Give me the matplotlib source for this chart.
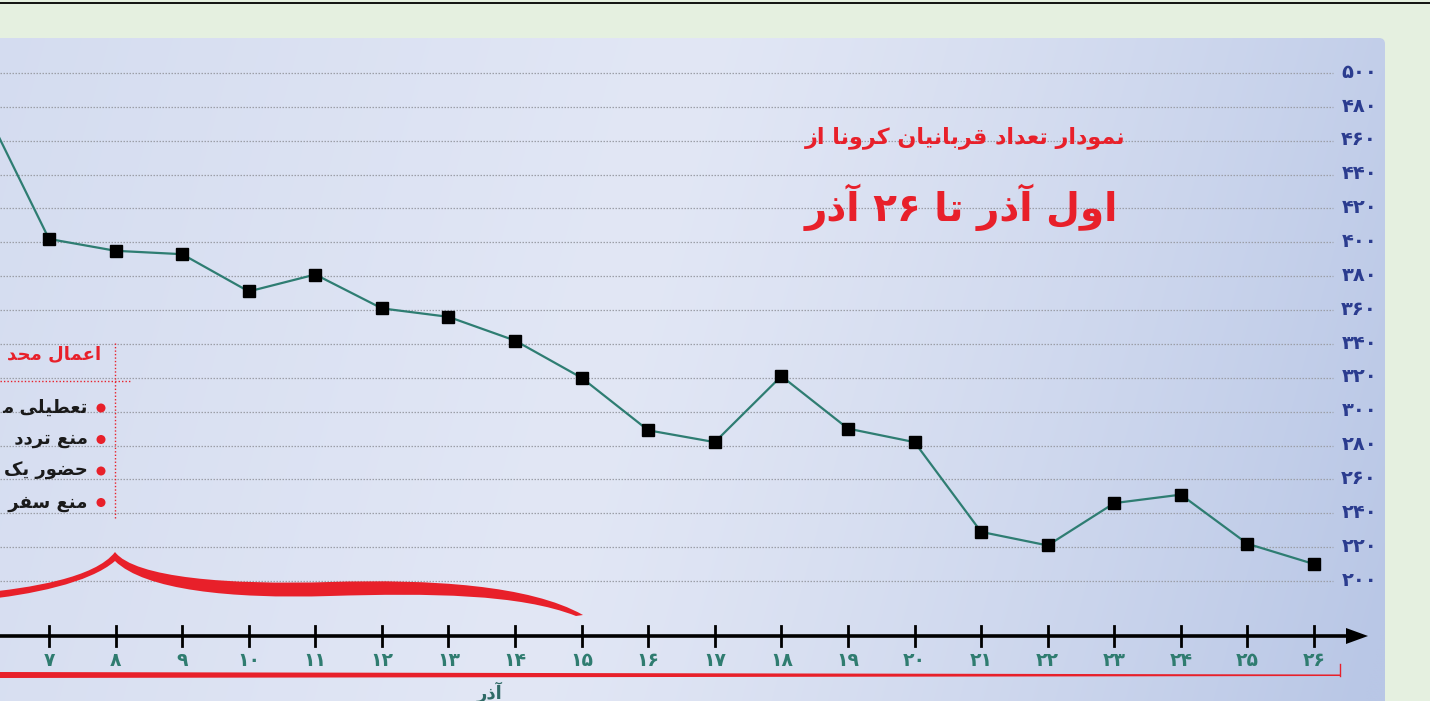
import numpy as np
import matplotlib
matplotlib.use("Agg")
import matplotlib.pyplot as plt
from matplotlib.patches import Polygon, PathPatch, FancyBboxPatch, Circle
from matplotlib.path import Path
from matplotlib.transforms import blended_transform_factory as blend

# ---------------- data ----------------
days = [6, 7, 8, 9, 10, 11, 12, 13, 14, 15, 16, 17, 18, 19, 20, 21, 22, 23, 24, 25, 26]
deaths = [482, 402, 395, 393, 371, 381, 361, 356, 342, 320, 289, 282, 321, 290, 282,
          229, 221, 246, 251, 222, 210]
tick_days = [7, 8, 9, 10, 11, 12, 13, 14, 15, 16, 17, 18, 19, 20, 21, 22, 23, 24, 25, 26]
y_ticks = [200, 220, 240, 260, 280, 300, 320, 340, 360, 380, 400, 420, 440, 460, 480, 500]
title_1 = "نمودار تعداد قربانیان کرونا از"
title_2 = "اول آذر تا ۲۶ آذر"
month_label = "آذر"
legend_title = "اعمال محدودیت‌های جدید"
legend_items = ["تعطیلی مشاغل غیرضروری", "منع تردد شبانه", "حضور یک‌سوم کارمندان",
                "منع سفر به شهرهای قرمز و نارنجی"]

# ---------------- simple Persian shaper ----------------
FORMS = {
    'ا': ('\uFE8D', '\uFE8E', None, None), 'آ': ('\uFE81', '\uFE82', None, None),
    'ب': ('\uFE8F', '\uFE90', '\uFE91', '\uFE92'), 'پ': ('\uFB56', '\uFB57', '\uFB58', '\uFB59'),
    'ت': ('\uFE95', '\uFE96', '\uFE97', '\uFE98'), 'ث': ('\uFE99', '\uFE9A', '\uFE9B', '\uFE9C'),
    'ج': ('\uFE9D', '\uFE9E', '\uFE9F', '\uFEA0'), 'چ': ('\uFB7A', '\uFB7B', '\uFB7C', '\uFB7D'),
    'ح': ('\uFEA1', '\uFEA2', '\uFEA3', '\uFEA4'), 'خ': ('\uFEA5', '\uFEA6', '\uFEA7', '\uFEA8'),
    'د': ('\uFEA9', '\uFEAA', None, None), 'ذ': ('\uFEAB', '\uFEAC', None, None),
    'ر': ('\uFEAD', '\uFEAE', None, None), 'ز': ('\uFEAF', '\uFEB0', None, None),
    'ژ': ('\uFB8A', '\uFB8B', None, None),
    'س': ('\uFEB1', '\uFEB2', '\uFEB3', '\uFEB4'), 'ش': ('\uFEB5', '\uFEB6', '\uFEB7', '\uFEB8'),
    'ص': ('\uFEB9', '\uFEBA', '\uFEBB', '\uFEBC'), 'ض': ('\uFEBD', '\uFEBE', '\uFEBF', '\uFEC0'),
    'ط': ('\uFEC1', '\uFEC2', '\uFEC3', '\uFEC4'), 'ظ': ('\uFEC5', '\uFEC6', '\uFEC7', '\uFEC8'),
    'ع': ('\uFEC9', '\uFECA', '\uFECB', '\uFECC'), 'غ': ('\uFECD', '\uFECE', '\uFECF', '\uFED0'),
    'ف': ('\uFED1', '\uFED2', '\uFED3', '\uFED4'), 'ق': ('\uFED5', '\uFED6', '\uFED7', '\uFED8'),
    'ک': ('\uFB8E', '\uFB8F', '\uFB90', '\uFB91'), 'گ': ('\uFB92', '\uFB93', '\uFB94', '\uFB95'),
    'ل': ('\uFEDD', '\uFEDE', '\uFEDF', '\uFEE0'), 'م': ('\uFEE1', '\uFEE2', '\uFEE3', '\uFEE4'),
    'ن': ('\uFEE5', '\uFEE6', '\uFEE7', '\uFEE8'), 'ه': ('\uFEE9', '\uFEEA', '\uFEEB', '\uFEEC'),
    'و': ('\uFEED', '\uFEEE', None, None), 'ی': ('\uFBFC', '\uFBFD', '\uFBFE', '\uFBFF'),
    'ئ': ('\uFE89', '\uFE8A', '\uFE8B', '\uFE8C'),
}
LAMALEF = {'ا': ('\uFEFB', '\uFEFC'), 'آ': ('\uFEF5', '\uFEF6')}


def dual(c):
    return c in FORMS and FORMS[c][2] is not None


def shape(s):
    out = []
    i = 0
    n = len(s)
    while i < n:
        c = s[i]
        if c not in FORMS:
            if c != '\u200c':
                out.append(c)
            i += 1
            continue
        prev = s[i - 1] if i > 0 else None
        jp = prev is not None and dual(prev)
        if c == 'ل' and i + 1 < n and s[i + 1] in LAMALEF:
            out.append(LAMALEF[s[i + 1]][1 if jp else 0])
            i += 2
            continue
        nxt = s[i + 1] if i + 1 < n else None
        jn = dual(c) and nxt in FORMS
        iso, fin, ini, med = FORMS[c]
        if jp and jn:
            out.append(med)
        elif jp:
            out.append(fin)
        elif jn:
            out.append(ini)
        else:
            out.append(iso)
        i += 1
    vis = ''.join(reversed(out))
    res, run = [], []
    for ch in vis:
        if '\u06F0' <= ch <= '\u06F9' or ch.isdigit():
            run.append(ch)
        else:
            if run:
                res.extend(reversed(run)); run = []
            res.append(ch)
    if run:
        res.extend(reversed(run))
    return ''.join(res)


def fa(n):
    return ''.join(chr(0x06F0 + int(d)) for d in str(n))


plt.rcParams['font.family'] = ['DejaVu Sans']

# ---------------- figure & axes ----------------
W, H = 1430, 701
fig = plt.figure(figsize=(W / 100, H / 100), dpi=100, facecolor='#E5F0E0')

bg = fig.add_axes([0, 0, 1, 1], zorder=0)
bg.set_xlim(0, W); bg.set_ylim(H, 0); bg.axis('off')

ax = fig.add_axes([0, 0, 1, 1], zorder=1)
ax.patch.set_alpha(0); ax.axis('off')
px_day, day7_px = 66.58, 49.0
px_val, v200_py = 1.6933, 581.0
ax.set_xlim(7 - day7_px / px_day, 7 + (W - day7_px) / px_day)
ax.set_ylim(200 - (H - v200_py) / px_val, 200 + v200_py / px_val)

ov = fig.add_axes([0, 0, 1, 1], zorder=2)
ov.patch.set_alpha(0); ov.set_xlim(0, W); ov.set_ylim(H, 0); ov.axis('off')

renderer = fig.canvas.get_renderer()


def left_clipped_text(axes, x, y, shaped, min_left=1.0, **kw):
    """Right-aligned text; the part beyond the left figure edge is dropped (as in the reference)."""
    t = axes.text(x, y, shaped, ha='right', va='center', **kw)
    s = shaped
    while len(s) > 1 and t.get_window_extent(renderer).x0 < min_left:
        s = s[1:]
        t.set_text(s)
    return t


# ---------------- background panel ----------------
bg.plot([0, W], [3, 3], color='black', lw=1.3)
xs = np.linspace(0, 1, 400)
ys = np.linspace(0, 1, 200)
XX, YY = np.meshgrid(xs, ys)
c_left = np.array([0xD4, 0xDC, 0xF0]) / 255
c_mid = np.array([0xE2, 0xE7, 0xF5]) / 255
c_right = np.array([0xB9, 0xC7, 0xE6]) / 255
t = np.clip(XX * 0.9 + YY * 0.12, 0, 1)
img = np.empty(XX.shape + (3,))
for k in range(3):
    img[..., k] = np.where(t < 0.45, c_left[k] + (c_mid[k] - c_left[k]) * (t / 0.45),
                           c_mid[k] + (c_right[k] - c_mid[k]) * ((t - 0.45) / 0.55) ** 1.3)
panel = FancyBboxPatch((-20, 38), 1405, 700, boxstyle='round,pad=0,rounding_size=6',
                       transform=bg.transData, facecolor='none', edgecolor='none')
bg.add_patch(panel)
im = bg.imshow(img, extent=(-20, 1385, 738, 38), aspect='auto', interpolation='bilinear')
im.set_clip_path(panel)
bg.set_xlim(0, W); bg.set_ylim(H, 0)

# ---------------- grid & y labels ----------------
gx = blend(ov.transData, ax.transData)
for v in y_ticks:
    ax.plot([0, 1333], [v, v], transform=gx, color='#9C9FA8', lw=0.9,
            linestyle=(0, (1.2, 1.2)), zorder=1)
    ax.text(1377, v + 0.5, fa(v), transform=gx, ha='right', va='center', fontsize=14,
            fontweight='bold', color='#2B3C8F')

# ---------------- x axis ----------------
gxd = blend(ax.transData, ov.transData)
ov.plot([0, 1352], [636, 636], color='black', lw=2.6, solid_capstyle='butt')
ov.add_patch(Polygon([[1346, 628], [1368, 636], [1346, 644]], closed=True,
                     facecolor='black', edgecolor='none'))
for d in days:
    ax.plot([d, d], [626, 646], transform=gxd, color='black', lw=2)
for d in tick_days:
    ax.text(d, 661, fa(d), transform=gxd, ha='center', va='center', fontsize=13.5,
            fontweight='bold', color='#2F7C70')

# bottom red bracket line
ov.add_patch(Polygon([[0, 672], [1340, 674.5], [1340, 676], [0, 678]], closed=True,
                     facecolor='#E8202A', edgecolor='none'))
ov.plot([1340, 1340], [664, 676], color='#E8202A', lw=1)
ov.text(490, 692, shape(month_label), ha='center', va='center', fontsize=13,
        fontweight='bold', color='#2F6A66')

# ---------------- data line ----------------
ax.plot(days, deaths, color='#2E7D72', lw=1.6, zorder=3)
ax.plot(days, deaths, linestyle='none', marker='s', ms=8.5, mfc='black', mec='black', zorder=4)

# ---------------- brace ----------------
verts = [(-20, 593), (30, 588), (95, 578), (115, 552),
         (135, 578), (230, 585), (330, 582),
         (430, 579), (530, 585), (583, 615),
         (576, 616),
         (520, 594), (430, 593), (330, 596),
         (230, 599), (145, 590), (115, 561),
         (90, 583), (30, 595), (-20, 600),
         (-20, 593)]
codes = [Path.MOVETO, Path.CURVE4, Path.CURVE4, Path.CURVE4,
         Path.CURVE4, Path.CURVE4, Path.CURVE4,
         Path.CURVE4, Path.CURVE4, Path.CURVE4,
         Path.LINETO,
         Path.CURVE4, Path.CURVE4, Path.CURVE4,
         Path.CURVE4, Path.CURVE4, Path.CURVE4,
         Path.CURVE4, Path.CURVE4, Path.CURVE4,
         Path.CLOSEPOLY]
ov.add_patch(PathPatch(Path(verts, codes), facecolor='#E8202A', edgecolor='none', zorder=5))

# ---------------- legend box ----------------
ov.plot([115, 115], [343, 518], color='#E8202A', lw=1, linestyle=(0, (1, 1.5)))
ov.plot([0, 130], [381, 381], color='#E8202A', lw=1, linestyle=(0, (1, 1.5)))
left_clipped_text(ov, 101, 354, shape(legend_title), fontsize=13,
                  fontweight='bold', color='#E8202A')
for k, item in enumerate(legend_items):
    yy = 408 + k * 31.5
    ov.add_patch(Circle((101, yy), 4.5, facecolor='#E8202A', edgecolor='none'))
    left_clipped_text(ov, 88, yy, shape(item), fontsize=13,
                      fontweight='bold', color='#1a1a1a')

# ---------------- titles ----------------
ov.text(1125, 138, shape(title_1), ha='right', va='center', fontsize=16,
        fontweight='bold', color='#E8202A')
ov.text(1118, 207, shape(title_2), ha='right', va='center', fontsize=28,
        fontweight='bold', color='#E8202A')

fig.savefig('out.png', dpi=100, facecolor=fig.get_facecolor())
